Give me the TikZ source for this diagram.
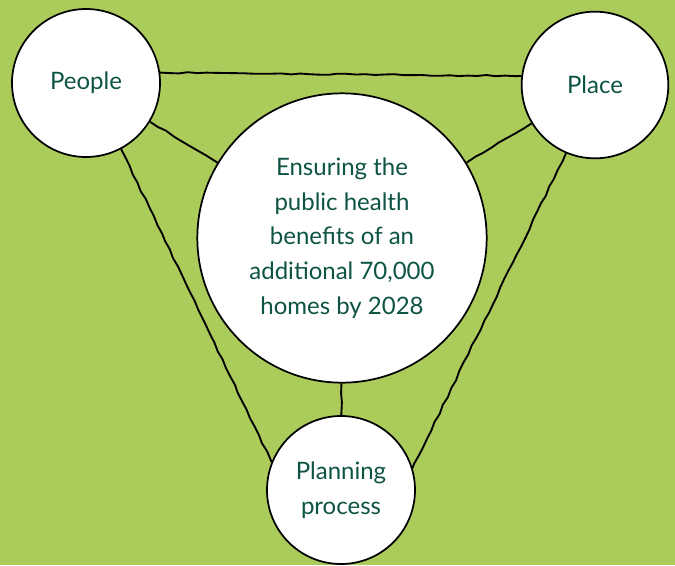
\documentclass[tikz,border=0pt]{standalone}
\usepackage{fontspec}
\setmainfont{Lato}
\usetikzlibrary{decorations.pathmorphing}
\definecolor{bggreen}{HTML}{ABCB5B}
\definecolor{txtteal}{HTML}{0D5445}
\begin{document}
\begin{tikzpicture}[x=0.75pt,y=-0.75pt,
  bubble/.style={circle,draw=black,fill=white,line width=1.3pt,inner sep=0pt,
    text=txtteal,font=\fontsize{18}{26}\selectfont,align=center},
  link/.style={draw=black,line width=1.4pt,
    decorate,decoration={random steps,segment length=7pt,amplitude=0.5pt}}]
\fill[bggreen] (0,0) rectangle (675,565);
\useasboundingbox (0,0) rectangle (675,565);
\node[bubble,minimum size=111pt] (people) at (86,83) {People};
\node[bubble,minimum size=110pt] (place) at (595,85) {Place};
\node[bubble,minimum size=111pt] (planning) at (341,490) {Planning\\process};
\node[bubble,minimum size=217pt] (center) at (342,238) {Ensuring the\\public health\\benefits of an\\additional 70,000\\homes by 2028};
\draw[link] (people.8) -- (place.173);
\draw[link] (people) -- (center);
\draw[link] (place) -- (center);
\draw[link] (people.-62) -- (planning.158);
\draw[link] (place.-113) -- (planning.17);
\draw[link] (center) -- (planning);
\end{tikzpicture}
\end{document}
